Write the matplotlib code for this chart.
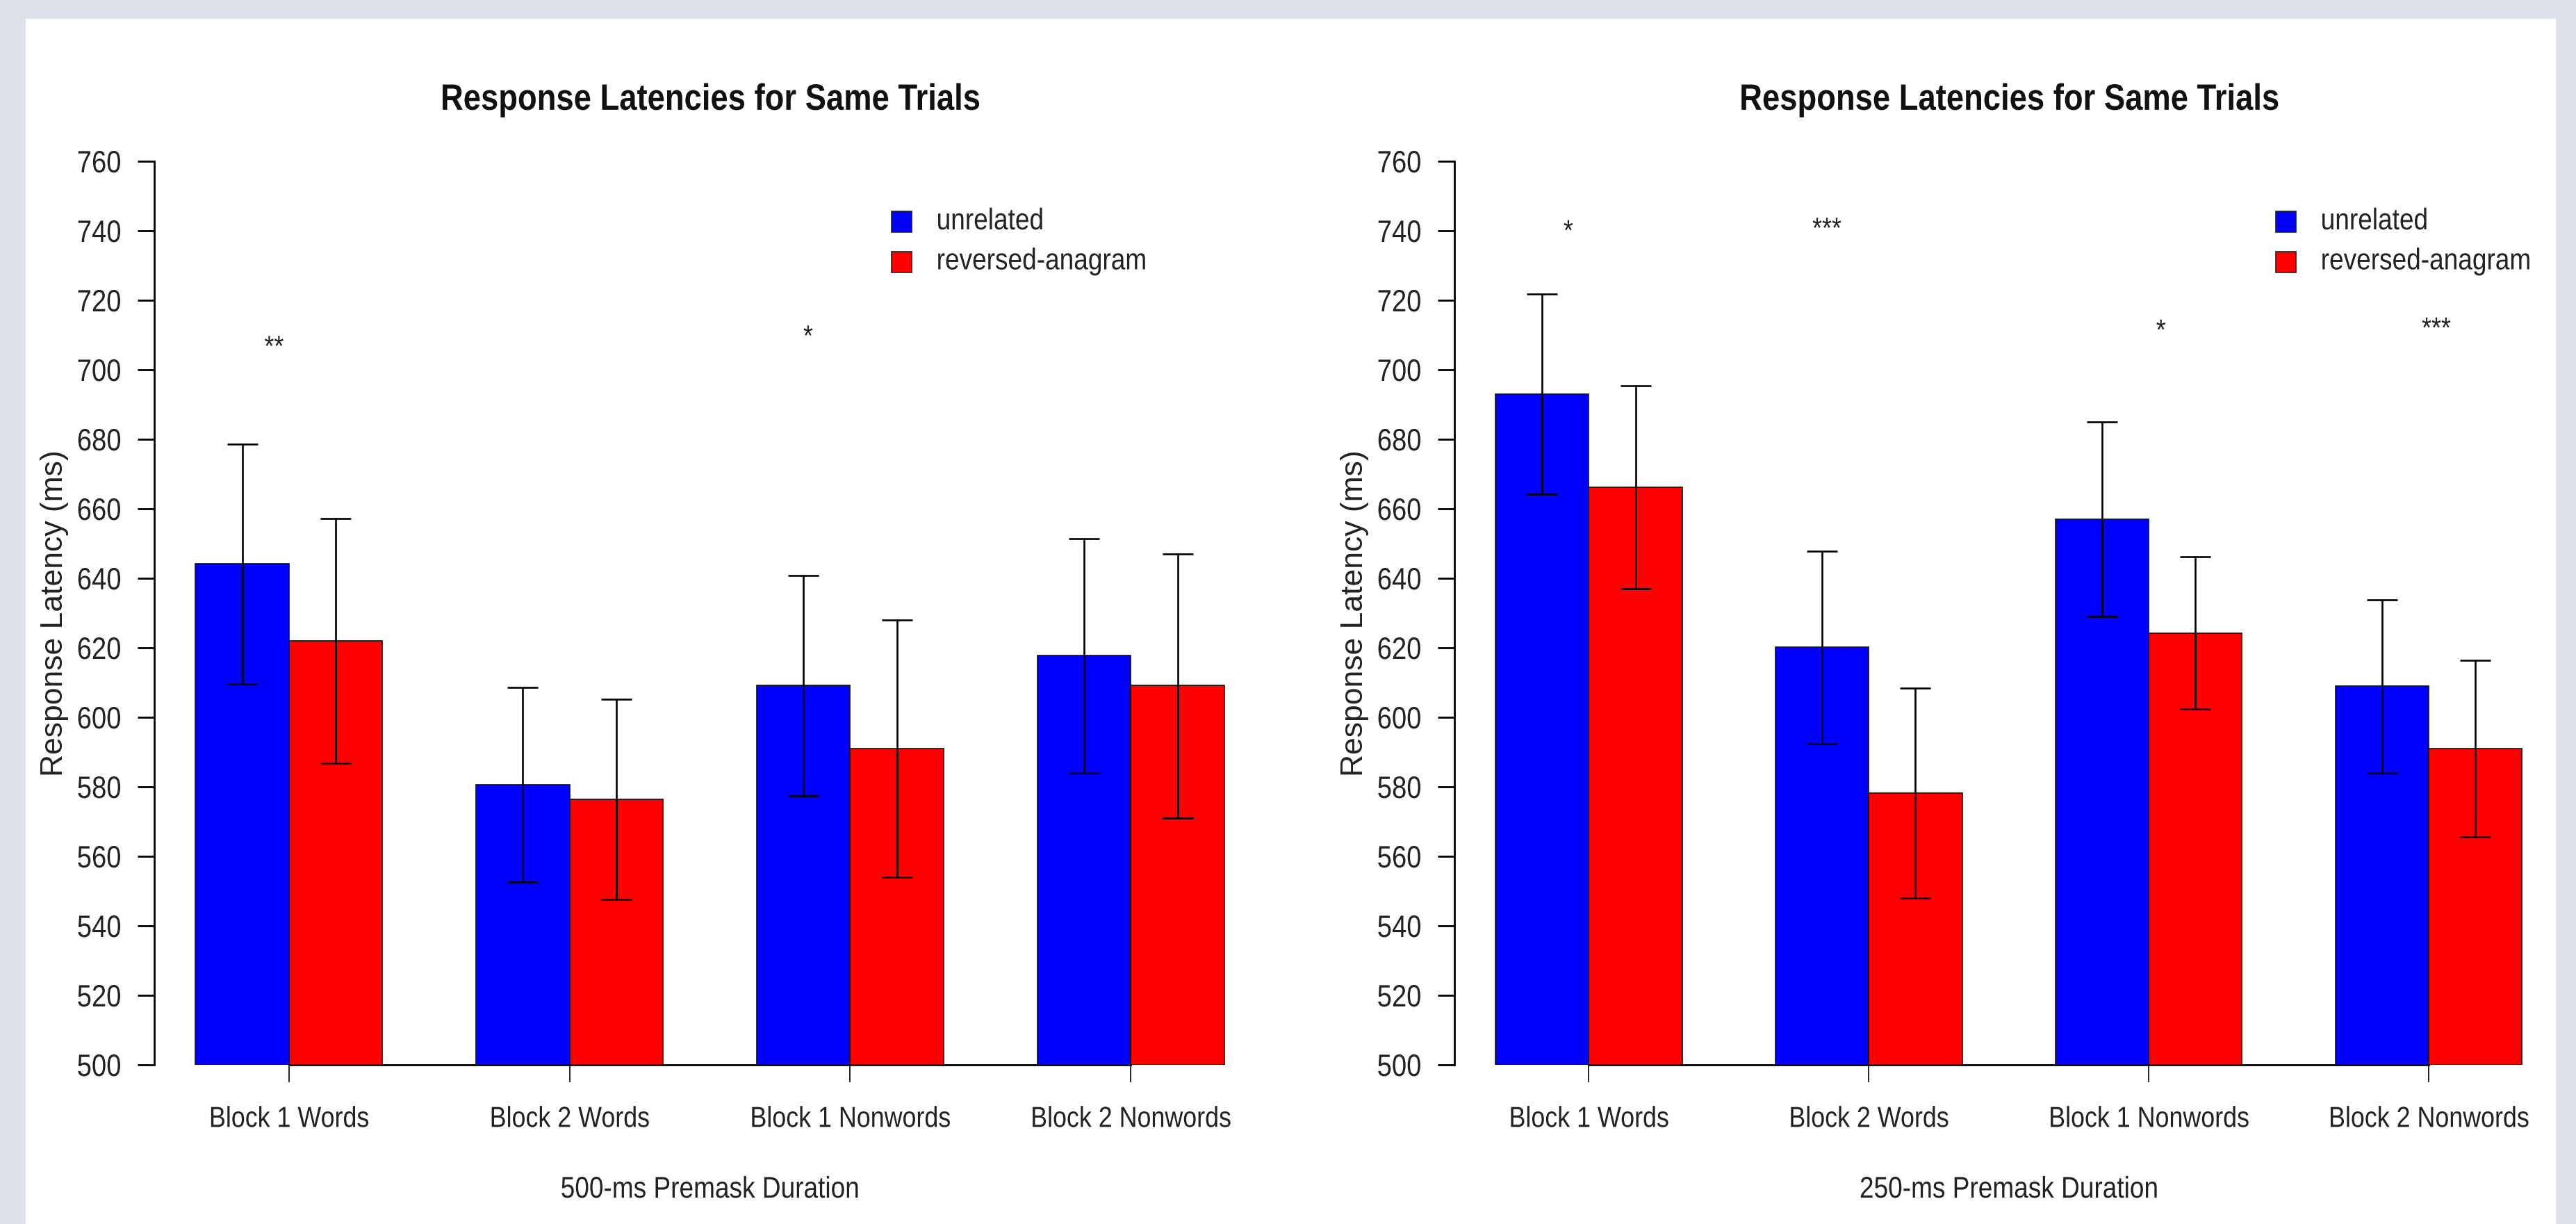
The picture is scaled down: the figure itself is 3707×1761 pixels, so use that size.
# Response latencies for same trials, 500-ms vs 250-ms premask (R barplot look-alike)

import matplotlib
matplotlib.use("Agg")
import matplotlib.pyplot as plt
from matplotlib.patches import Rectangle
from matplotlib.patheffects import AbstractPathEffect
from matplotlib.transforms import Affine2D
import numpy as np

plt.rcParams['font.family'] = ['Liberation Sans', 'DejaVu Sans']

# --- data ---
groups = ["Block 1 Words", "Block 2 Words", "Block 1 Nonwords", "Block 2 Nonwords"]
series = ["unrelated", "reversed-anagram"]

# 500-ms premask
unrel_500 = [644.2, 580.6, 609.1, 617.7]
rev_500 = [622.0, 576.4, 591.1, 609.1]
unrel_500_err = [34.5, 28.0, 31.7, 33.8]
rev_500_err = [35.2, 28.8, 37.0, 38.0]
stars_500 = ["**", "*"]
stars_500_x = [1.84, 7.55]
stars_500_y = [704.0, 707.0]

# 250-ms premask
unrel_250 = [693.0, 620.1, 657.0, 609.0]
rev_250 = [666.2, 578.3, 624.3, 591.0]
unrel_250_err = [28.8, 27.7, 28.0, 24.9]
rev_250_err = [29.2, 30.2, 21.9, 25.4]
stars_250 = ["*", "***", "*", "***"]
stars_250_x = [1.78, 4.55, 8.13, 11.08]
stars_250_y = [737.3, 738.0, 708.7, 709.3]

yticks = [500, 520, 540, 560, 580, 600, 620, 640, 660, 680, 700, 720, 740, 760]
colors = ["#0000ff", "#ff0000"]


class Squeeze(AbstractPathEffect):
    """Narrow the glyphs horizontally (the reference text looks condensed)."""

    def __init__(self, sx=0.86, anchor="center"):
        super().__init__()
        self.sx = sx
        self.anchor = anchor

    def draw_path(self, renderer, gc, tpath, affine, rgbFace=None):
        ext = tpath.get_extents()
        if self.anchor == "left":
            cx = ext.x0
        elif self.anchor == "right":
            cx = ext.x1
        else:
            cx = 0.5 * (ext.x0 + ext.x1)
        t = Affine2D().translate(-cx, 0).scale(self.sx, 1).translate(cx, 0) + affine
        renderer.draw_path(gc, tpath, t, rgbFace)


W, H = 3707, 1761
fig = plt.figure(figsize=(W / 100, H / 100), dpi=100)
fig.patch.set_facecolor("#dee2ea")
# white panel over the grey page
fig.patches.append(Rectangle((37 / W, 0), (3678 - 37) / W, (H - 27) / H,
                             transform=fig.transFigure, facecolor="white",
                             edgecolor="none", zorder=-10))


def panel(left_px, unit_px, unrel, rev, unrel_err, rev_err, stars, sx, sy,
          legend_x, xlabel):
    # R barplot coordinates: bars of width 1, groups separated by 1
    x0, x1 = 0.56, 12.44
    ax = fig.add_axes([left_px / W, (H - 1532) / H,
                       (x1 - x0) * unit_px / W, 1300 / H])
    ax.set_facecolor("none")
    ax.set_xlim(x0, x1)
    ax.set_ylim(500, 760)

    centers = np.array([2, 5, 8, 11])
    ax.bar(centers - 0.5, np.array(unrel) - 500, bottom=500, width=1,
           color=colors[0], edgecolor="#111111", linewidth=1.2, zorder=3)
    ax.bar(centers + 0.5, np.array(rev) - 500, bottom=500, width=1,
           color=colors[1], edgecolor="#111111", linewidth=1.2, zorder=3)
    ax.errorbar(centers - 0.5, unrel, yerr=unrel_err, fmt="none",
                ecolor="black", elinewidth=1.9, capsize=16, capthick=1.9,
                zorder=4)
    ax.errorbar(centers + 0.5, rev, yerr=rev_err, fmt="none",
                ecolor="black", elinewidth=1.9, capsize=16, capthick=1.9,
                zorder=4)

    for s, x, y in zip(stars, sx, sy):
        ax.text(x, y, s, ha="center", va="baseline", fontsize=30,
                color="#222222", path_effects=[Squeeze()])

    # legend drawn R-style: filled squares with labels
    for i, (lab, c) in enumerate(zip(series, colors)):
        yc = 742.6 - i * 11.5
        ax.add_patch(Rectangle((legend_x, yc - 3.0), 0.22, 6.0,
                               facecolor=c, edgecolor="#222222",
                               linewidth=1.2, zorder=5))
        ax.text(legend_x + 0.48, yc, lab, ha="left", va="center",
                fontsize=31, color="#222222",
                path_effects=[Squeeze(anchor="left")])

    for side in ["top", "right"]:
        ax.spines[side].set_visible(False)
    ax.spines["left"].set_bounds(500, 760)
    ax.spines["bottom"].set_bounds(2, 11)
    ax.spines["left"].set_linewidth(2)
    ax.spines["bottom"].set_linewidth(2)
    ax.spines["bottom"].set_zorder(2)

    ax.set_yticks(yticks)
    ax.set_xticks(centers)
    ax.set_xticklabels(groups)
    ax.tick_params(axis="y", length=17, width=2, pad=17, labelsize=32,
                   labelcolor="#222222")
    ax.tick_params(axis="x", length=18, width=1.2, pad=24, labelsize=30,
                   labelcolor="#222222")
    plt.setp(ax.get_xticklabels(), path_effects=[Squeeze()])
    plt.setp(ax.get_yticklabels(), path_effects=[Squeeze(anchor="right")])

    ax.set_title("Response Latencies for Same Trials", fontsize=38,
                 fontweight="bold", y=1.057, va="baseline", pad=0,
                 color="#111111", path_effects=[Squeeze()])
    ax.set_ylabel("Response Latency (ms)", fontsize=32, color="#222222")
    ax.yaxis.set_label_coords(-0.09, 0.5)
    ax.yaxis.label.set_va("center")
    ax.set_xlabel(xlabel, fontsize=31, color="#222222",
                  path_effects=[Squeeze()])
    ax.xaxis.set_label_coords(0.5, -0.147)
    ax.xaxis.label.set_va("baseline")
    return ax


panel(222, 134.6, unrel_500, rev_500, unrel_500_err, rev_500_err,
      stars_500, stars_500_x, stars_500_y, 8.44, "500-ms Premask Duration")
panel(2093, 134.3, unrel_250, rev_250, unrel_250_err, rev_250_err,
      stars_250, stars_250_x, stars_250_y, 9.36, "250-ms Premask Duration")

fig.savefig("out.png", dpi=100, facecolor=fig.get_facecolor())
